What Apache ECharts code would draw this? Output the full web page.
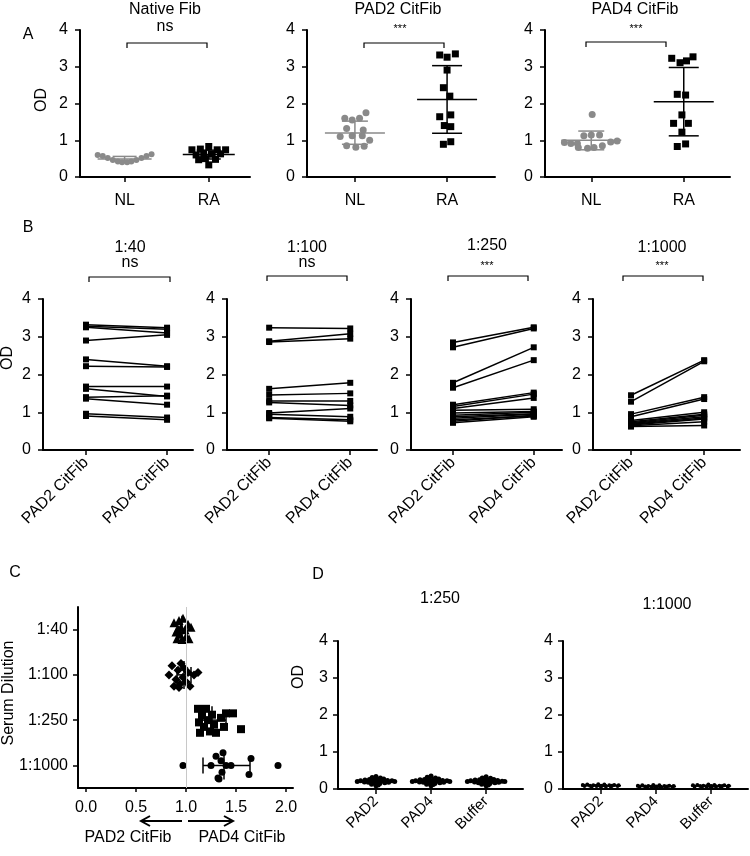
<!DOCTYPE html>
<html>
<head>
<meta charset="utf-8">
<script src="https://cdn.jsdelivr.net/npm/echarts@6/dist/echarts.min.js"></script>
<style>
html, body { margin: 0; padding: 0; background: #fff; }
#chart { width: 750px; height: 856px; }
</style>
</head>
<body>
<div id="chart"></div>
<script>
// ---- panel A: OD by group (value, horizontal jitter in category units)
var groupNames = ['NL', 'RA'];
var nativeNL = [0.60, 0.57, 0.52, 0.46, 0.42, 0.40, 0.40, 0.42, 0.46, 0.52, 0.57, 0.62];
var nativeNLJit = [-0.32, -0.26, -0.2, -0.14, -0.08, -0.03, 0.03, 0.08, 0.14, 0.2, 0.26, 0.32];
var nativeRA = [0.74, 0.76, 0.83, 0.74, 0.74, 0.60, 0.64, 0.62, 0.63, 0.47, 0.50, 0.48, 0.33];
var nativeRAJit = [-0.2, -0.1, 0, 0.1, 0.2, -0.15, -0.06, 0.04, 0.14, -0.12, -0.04, 0.08, 0];
var pad2NL = [1.60, 1.55, 1.60, 1.75, 1.32, 1.28, 1.10, 1.12, 1.12, 1.00, 0.85, 0.81, 0.84];
var pad2NLJit = [-0.11, -0.03, 0.05, 0.12, -0.09, 0.09, -0.16, -0.03, 0.08, 0.16, -0.09, 0.01, 0.10];
var pad2RA = [3.32, 3.26, 3.35, 2.91, 2.43, 2.20, 1.64, 1.69, 1.40, 1.37, 0.89, 0.96];
var pad2RAJit = [-0.08, 0, 0.09, 0, -0.04, 0.03, -0.08, 0.04, -0.03, 0.04, -0.04, 0.04];
var pad4NL = [1.70, 0.94, 0.91, 0.91, 1.12, 1.14, 1.14, 0.80, 0.78, 0.80, 0.85, 0.95, 0.98];
var pad4NLJit = [0.01, -0.29, -0.22, -0.15, -0.08, 0, 0.09, -0.14, -0.04, 0.03, 0.12, 0.21, 0.28];
var pad4RA = [3.23, 3.11, 3.16, 3.27, 2.25, 2.23, 1.69, 1.46, 1.46, 1.22, 0.83, 0.90];
var pad4RAJit = [-0.13, -0.04, 0.03, 0.10, -0.07, 0.02, -0.02, -0.11, 0.05, -0.02, -0.07, 0.02];
// mean, sd low, sd high (NL, RA)
var nativeStats = [[0.49, 0.43, 0.56], [0.61, 0.49, 0.73]];
var pad2Stats = [[1.20, 0.89, 1.52], [2.11, 1.19, 3.03]];
var pad4Stats = [[1.00, 0.74, 1.25], [2.05, 1.12, 2.98]];

// ---- panel B: paired OD, PAD2 CitFib vs PAD4 CitFib
var pairNames = ['PAD2 CitFib', 'PAD4 CitFib'];
var b40Pad2 = [3.32, 3.28, 3.25, 2.90, 2.40, 2.22, 1.68, 1.62, 1.40, 1.36, 0.96, 0.90];
var b40Pad4 = [3.24, 3.20, 3.10, 3.05, 2.22, 2.20, 1.68, 1.42, 1.44, 1.20, 0.86, 0.80];
var b100Pad2 = [3.24, 2.88, 2.86, 1.62, 1.46, 1.30, 1.26, 0.98, 0.95, 0.86, 0.84];
var b100Pad4 = [3.22, 3.08, 2.95, 1.78, 1.50, 1.30, 1.18, 1.10, 0.88, 0.80, 0.76];
var b250Pad2 = [2.85, 2.72, 1.78, 1.65, 1.20, 1.15, 1.10, 1.05, 0.98, 0.92, 0.88, 0.84, 0.80, 0.76, 0.72];
var b250Pad4 = [3.25, 3.22, 2.72, 2.38, 1.52, 1.48, 1.38, 1.08, 1.02, 1.00, 0.96, 0.95, 0.90, 0.92, 0.88];
var b1000Pad2 = [1.45, 1.28, 0.95, 0.88, 0.78, 0.75, 0.72, 0.70, 0.68, 0.66, 0.64, 0.62];
var b1000Pad4 = [2.38, 2.35, 1.40, 1.35, 1.00, 0.95, 0.92, 0.88, 0.85, 0.82, 0.75, 0.65];

// ---- panel C: PAD4/PAD2 ratio per dilution (ratio, vertical jitter)
var dilutions = ['1:40', '1:100', '1:250', '1:1000'];
var c40 = [0.88, 0.90, 0.91, 0.93, 0.94, 0.95, 0.96, 0.97, 0.99, 1.00, 1.02, 1.03, 1.05, 0.92];
var c40Jit = [-0.15, 0.05, 0.2, -0.2, 0.1, -0.05, 0.22, -0.25, 0.0, 0.15, -0.12, 0.2, -0.05, -0.02];
var c100 = [0.83, 0.86, 0.88, 0.90, 0.92, 0.94, 0.95, 0.97, 0.98, 1.00, 1.02, 1.04, 1.08, 1.12, 0.93];
var c100Jit = [0.0, -0.2, 0.25, 0.1, -0.1, 0.2, -0.25, 0.05, -0.15, 0.15, -0.05, 0.25, 0.0, -0.05, 0.28];
var c250 = [1.12, 1.13, 1.14, 1.16, 1.18, 1.20, 1.22, 1.24, 1.26, 1.28, 1.30, 1.35, 1.40, 1.47, 1.55, 1.38];
var c250Jit = [-0.25, 0.05, 0.28, -0.1, 0.15, -0.25, 0.0, 0.25, -0.12, 0.1, 0.28, -0.05, -0.15, -0.15, 0.2, 0.15];
var c1000 = [0.97, 1.25, 1.30, 1.32, 1.35, 1.36, 1.37, 1.40, 1.45, 1.65, 1.63, 1.92, 1.33];
var c1000Jit = [0, 0, -0.2, 0.28, -0.1, 0.15, -0.28, 0, 0, -0.15, 0.2, 0, 0.3];
var cStats = [[0.96, 0.91, 1.01], [0.98, 0.91, 1.05], [1.26, 1.15, 1.40], [1.38, 1.17, 1.64]];

// ---- panel D: OD by coating at two dilutions
var coatNames = ['PAD2', 'PAD4', 'Buffer'];
var d250Pad2 = [0.34, 0.31, 0.30, 0.28, 0.27, 0.26, 0.25, 0.24, 0.23, 0.22, 0.22, 0.21, 0.21, 0.20, 0.20, 0.20, 0.19, 0.18, 0.18, 0.17, 0.16, 0.15, 0.13, 0.11, 0.09];
var d250Pad4 = [0.35, 0.32, 0.30, 0.29, 0.27, 0.26, 0.25, 0.25, 0.23, 0.22, 0.22, 0.21, 0.21, 0.20, 0.20, 0.20, 0.19, 0.18, 0.18, 0.17, 0.16, 0.15, 0.13, 0.12, 0.09];
var d250Buf = [0.33, 0.30, 0.29, 0.27, 0.26, 0.25, 0.24, 0.24, 0.23, 0.22, 0.21, 0.21, 0.20, 0.20, 0.20, 0.19, 0.19, 0.18, 0.17, 0.17, 0.16, 0.15, 0.13, 0.11, 0.09];
var d250Jit = [0.00, -0.07, 0.08, -0.04, 0.14, -0.12, 0.04, -0.2, 0.21, -0.28, 0.29, -0.08, 0.1, -0.34, 0.34, 0.00, -0.21, 0.23, -0.14, 0.16, -0.06, 0.07, -0.08, 0.04, 0.00];
var d1000Pad2 = [0.13, 0.12, 0.12, 0.11, 0.11, 0.10, 0.10, 0.10, 0.09, 0.09, 0.09, 0.08, 0.08, 0.08, 0.07, 0.07, 0.06, 0.06];
var d1000Pad4 = [0.11, 0.10, 0.10, 0.09, 0.09, 0.08, 0.08, 0.08, 0.07, 0.07, 0.07, 0.06, 0.06, 0.06, 0.05, 0.05, 0.05, 0.04];
var d1000Buf = [0.12, 0.11, 0.11, 0.10, 0.10, 0.09, 0.09, 0.09, 0.08, 0.08, 0.08, 0.07, 0.07, 0.07, 0.06, 0.06, 0.05, 0.05];
var d1000Jit = [-0.05, 0.06, -0.25, 0.24, -0.33, 0.32, -0.14, 0.15, 0.0, -0.2, 0.2, -0.3, 0.3, -0.08, 0.09, -0.17, 0.18, 0.0];
var d250Stats = [[0.21, 0.16, 0.26], [0.21, 0.16, 0.26], [0.20, 0.16, 0.25]];
var d1000Stats = [[0.09, 0.07, 0.11], [0.07, 0.05, 0.09], [0.08, 0.06, 0.10]];

var FONT = 'Liberation Sans, Arial, sans-serif';
var GRAY = '#8a8a8a';
var FS = 16;

var grids = [
  { left: 80, top: 30, width: 170, height: 147 },   // A1
  { left: 307, top: 30, width: 188, height: 147 },  // A2
  { left: 545, top: 30, width: 185, height: 147 },  // A3
  { left: 43, top: 299, width: 150, height: 151 },  // B1
  { left: 227, top: 299, width: 150, height: 151 }, // B2
  { left: 411, top: 299, width: 151, height: 151 }, // B3
  { left: 593, top: 299, width: 147, height: 151 }, // B4
  { left: 78, top: 607, width: 215, height: 181 },  // C
  { left: 338, top: 641, width: 185, height: 148 }, // D1
  { left: 563, top: 641, width: 185, height: 148 }  // D2
];

function axLine() { return { show: true, onZero: false, lineStyle: { color: '#000', width: 2 } }; }

function odAxis(gi, margin) {
  return {
    type: 'value', gridIndex: gi, min: 0, max: 4, interval: 1,
    axisLine: axLine(),
    axisTick: { show: true, length: 5, lineStyle: { color: '#000', width: 1.5 } },
    axisLabel: { color: '#000', fontSize: FS, fontFamily: FONT, margin: margin },
    splitLine: { show: false }
  };
}

function groupAxis(gi, min, max, names, rotate, fontSize, margin) {
  var idx = names.map(function (n, i) { return i; });
  return {
    type: 'value', gridIndex: gi, min: min, max: max,
    axisLine: axLine(),
    axisTick: { show: true, length: 5, customValues: idx, lineStyle: { color: '#000', width: 1.5 } },
    axisLabel: {
      customValues: idx, rotate: rotate, margin: margin,
      color: '#000', fontSize: fontSize, fontFamily: FONT,
      formatter: function (v) { return names[Math.round(v)]; }
    },
    splitLine: { show: false }
  };
}

var xAxes = [
  groupAxis(0, -0.53, 1.49, groupNames, 0, FS, 16),
  groupAxis(1, -0.52, 1.52, groupNames, 0, FS, 16),
  groupAxis(2, -0.50, 1.50, groupNames, 0, FS, 16),
  groupAxis(3, -0.53, 1.32, pairNames, 45, FS, 10),
  groupAxis(4, -0.52, 1.33, pairNames, 45, FS, 10),
  groupAxis(5, -0.52, 1.35, pairNames, 45, FS, 10),
  groupAxis(6, -0.52, 1.49, pairNames, 45, FS, 10),
  {
    type: 'value', gridIndex: 7, min: -0.08, max: 2.07,
    axisLine: axLine(),
    axisTick: { show: true, length: 4, customValues: [0, 0.5, 1, 1.5, 2], lineStyle: { color: '#000', width: 1.5 } },
    axisLabel: {
      customValues: [0, 0.5, 1, 1.5, 2], margin: 12, color: '#000', fontSize: FS, fontFamily: FONT,
      formatter: function (v) { return v.toFixed(1); }
    },
    splitLine: { show: false }
  },
  groupAxis(8, -0.69, 2.67, coatNames, 45, 15, 10),
  groupAxis(9, -0.69, 2.67, coatNames, 45, 15, 10)
];

var yAxes = [
  odAxis(0, 12), odAxis(1, 12), odAxis(2, 12),
  odAxis(3, 12), odAxis(4, 12), odAxis(5, 12), odAxis(6, 12),
  {
    type: 'value', gridIndex: 7, min: -0.5, max: 3.5, inverse: true,
    axisLine: axLine(),
    axisTick: { show: true, length: 5, customValues: [0, 1, 2, 3], lineStyle: { color: '#000', width: 1.5 } },
    axisLabel: {
      customValues: [0, 1, 2, 3], margin: 10, color: '#000', fontSize: FS, fontFamily: FONT,
      formatter: function (v) { return dilutions[Math.round(v)]; }
    },
    splitLine: { show: false }
  },
  odAxis(8, 10), odAxis(9, 10)
];

function jittered(vals, jit, pos) {
  return vals.map(function (v, i) { return [pos + jit[i], v]; });
}

function scatter(gi, data, symbol, size, color) {
  return {
    type: 'scatter', xAxisIndex: gi, yAxisIndex: gi, data: data,
    symbol: symbol, symbolSize: size, itemStyle: { color: color, opacity: 1 },
    z: 2, silent: true
  };
}

// vertical mean +/- SD bar drawn through the axes
function vBarRender(color, meanHalf, capHalf) {
  return function (params, api) {
    var x = api.value(0);
    var pm = api.coord([x, api.value(1)]);
    var pl = api.coord([x, api.value(2)]);
    var ph = api.coord([x, api.value(3)]);
    var st = { stroke: color, lineWidth: 1.5 };
    return {
      type: 'group', children: [
        { type: 'line', shape: { x1: pm[0] - meanHalf, y1: pm[1], x2: pm[0] + meanHalf, y2: pm[1] }, style: st },
        { type: 'line', shape: { x1: pl[0], y1: pl[1], x2: ph[0], y2: ph[1] }, style: st },
        { type: 'line', shape: { x1: pl[0] - capHalf, y1: pl[1], x2: pl[0] + capHalf, y2: pl[1] }, style: st },
        { type: 'line', shape: { x1: ph[0] - capHalf, y1: ph[1], x2: ph[0] + capHalf, y2: ph[1] }, style: st }
      ]
    };
  };
}

function vBars(gi, stats, first, color, meanHalf, capHalf) {
  return {
    type: 'custom', xAxisIndex: gi, yAxisIndex: gi, z: 3, silent: true,
    data: stats.map(function (s, i) { return [first + i, s[0], s[1], s[2]]; }),
    encode: { x: 0, y: 1 },
    renderItem: vBarRender(color, meanHalf, capHalf)
  };
}

// horizontal mean +/- SD bars for panel C
function hBars(gi, stats, meanHalf, capHalf) {
  return {
    type: 'custom', xAxisIndex: gi, yAxisIndex: gi, z: 3, silent: true,
    data: stats.map(function (s, i) { return [s[0], i, s[1], s[2]]; }),
    encode: { x: 0, y: 1 },
    renderItem: function (params, api) {
      var y = api.value(1);
      var pm = api.coord([api.value(0), y]);
      var pl = api.coord([api.value(2), y]);
      var ph = api.coord([api.value(3), y]);
      var st = { stroke: '#000', lineWidth: 1.5 };
      return {
        type: 'group', children: [
          { type: 'line', shape: { x1: pm[0], y1: pm[1] - meanHalf, x2: pm[0], y2: pm[1] + meanHalf }, style: st },
          { type: 'line', shape: { x1: pl[0], y1: pl[1], x2: ph[0], y2: ph[1] }, style: st },
          { type: 'line', shape: { x1: pl[0], y1: pl[1] - capHalf, x2: pl[0], y2: pl[1] + capHalf }, style: st },
          { type: 'line', shape: { x1: ph[0], y1: ph[1] - capHalf, x2: ph[0], y2: ph[1] + capHalf }, style: st }
        ]
      };
    }
  };
}

function pairs(gi, left, right) {
  return left.map(function (l, i) {
    return {
      type: 'line', xAxisIndex: gi, yAxisIndex: gi, silent: true,
      data: [[0, l], [1, right[i]]],
      symbol: 'rect', symbolSize: 6, showSymbol: true,
      lineStyle: { color: '#000', width: 1.5 }, itemStyle: { color: '#000' }
    };
  });
}

var series = [
  scatter(0, jittered(nativeNL, nativeNLJit, 0), 'circle', 6, GRAY),
  scatter(0, jittered(nativeRA, nativeRAJit, 1), 'rect', 7, '#000'),
  vBars(0, [nativeStats[0]], 0, GRAY, 27, 12),
  vBars(0, [nativeStats[1]], 1, '#000', 26, 12),
  scatter(1, jittered(pad2NL, pad2NLJit, 0), 'circle', 7, GRAY),
  scatter(1, jittered(pad2RA, pad2RAJit, 1), 'rect', 7, '#000'),
  vBars(1, [pad2Stats[0]], 0, GRAY, 30, 13),
  vBars(1, [pad2Stats[1]], 1, '#000', 30, 15),
  scatter(2, jittered(pad4NL, pad4NLJit, 0), 'circle', 7, GRAY),
  scatter(2, jittered(pad4RA, pad4RAJit, 1), 'rect', 7, '#000'),
  vBars(2, [pad4Stats[0]], 0, GRAY, 30, 13),
  vBars(2, [pad4Stats[1]], 1, '#000', 30, 15),
  scatter(7, c40.map(function (v, i) { return [v, 0 + c40Jit[i]]; }), 'triangle', 9, '#000'),
  scatter(7, c100.map(function (v, i) { return [v, 1 + c100Jit[i]]; }), 'diamond', 9, '#000'),
  scatter(7, c250.map(function (v, i) { return [v, 2 + c250Jit[i]]; }), 'rect', 8, '#000'),
  scatter(7, c1000.map(function (v, i) { return [v, 3 + c1000Jit[i]]; }), 'circle', 7, '#000'),
  hBars(7, cStats, 14, 8),
  scatter(8, jittered(d250Pad2, d250Jit, 0), 'circle', 5, '#000'),
  scatter(8, jittered(d250Pad4, d250Jit, 1), 'circle', 5, '#000'),
  scatter(8, jittered(d250Buf, d250Jit, 2), 'circle', 5, '#000'),
  vBars(8, d250Stats, 0, '#000', 20, 6),
  scatter(9, jittered(d1000Pad2, d1000Jit, 0), 'circle', 4, '#000'),
  scatter(9, jittered(d1000Pad4, d1000Jit, 1), 'circle', 4, '#000'),
  scatter(9, jittered(d1000Buf, d1000Jit, 2), 'circle', 4, '#000'),
  vBars(9, d1000Stats, 0, '#000', 20, 6)
];
series = series.concat(pairs(3, b40Pad2, b40Pad4), pairs(4, b100Pad2, b100Pad4),
  pairs(5, b250Pad2, b250Pad4), pairs(6, b1000Pad2, b1000Pad4));
// reference line at ratio 1 in panel C
series.push({
  type: 'line', xAxisIndex: 7, yAxisIndex: 7, data: [], silent: true,
  markLine: {
    silent: true, symbol: 'none', label: { show: false },
    lineStyle: { color: '#c8c8c8', width: 1, type: 'solid' },
    data: [{ xAxis: 1 }]
  }
});

function txt(x, y, s, size, rot) {
  var o = {
    type: 'text', x: x, y: y, silent: true,
    style: { text: s, fill: '#000', fontSize: size, fontFamily: FONT, align: 'center', verticalAlign: 'middle' }
  };
  if (rot) { o.rotation = rot; }
  return o;
}
function bracket(x1, x2, y) {
  return {
    type: 'polyline', silent: true,
    shape: { points: [[x1, y + 5], [x1, y], [x2, y], [x2, y + 5]] },
    style: { stroke: '#000', lineWidth: 1.2, fill: null }
  };
}
var V = Math.PI / 2;
var graphics = [
  txt(28, 35, 'A', FS), txt(42, 100, 'OD', FS, V),
  txt(165, 10, 'Native Fib', FS), txt(165, 27, 'ns', FS), bracket(127, 207, 43),
  txt(398, 10, 'PAD2 CitFib', FS), txt(400, 29, '***', 11), bracket(364, 444, 43),
  txt(635, 10, 'PAD4 CitFib', FS), txt(636, 29, '***', 11), bracket(586, 666, 42),
  txt(28, 228, 'B', FS), txt(8, 358, 'OD', FS, V),
  txt(130, 248, '1:40', FS), txt(130, 263, 'ns', FS), bracket(89, 170, 277),
  txt(307, 248, '1:100', FS), txt(307, 263, 'ns', FS), bracket(267, 347, 276),
  txt(487, 246, '1:250', FS), txt(487, 266, '***', 11), bracket(448, 528, 276),
  txt(662, 248, '1:1000', FS), txt(662, 266, '***', 11), bracket(623, 703, 276),
  txt(15, 573, 'C', FS), txt(9, 693, 'Serum Dilution', FS, V),
  txt(128, 838, 'PAD2 CitFib', FS), txt(242, 838, 'PAD4 CitFib', FS),
  { type: 'line', silent: true, shape: { x1: 142, y1: 821, x2: 182, y2: 821 }, style: { stroke: '#000', lineWidth: 2 } },
  { type: 'polyline', silent: true, shape: { points: [[150, 816], [141, 821], [150, 826]] }, style: { stroke: '#000', lineWidth: 2, fill: null } },
  { type: 'line', silent: true, shape: { x1: 188, y1: 821, x2: 232, y2: 821 }, style: { stroke: '#000', lineWidth: 2 } },
  { type: 'polyline', silent: true, shape: { points: [[224, 816], [233, 821], [224, 826]] }, style: { stroke: '#000', lineWidth: 2, fill: null } },
  txt(318, 575, 'D', FS), txt(299, 677, 'OD', FS, V),
  txt(440, 599, '1:250', FS), txt(667, 605, '1:1000', FS)
];

var chart = echarts.init(document.getElementById('chart'), null, { renderer: 'canvas' });
chart.setOption({
  animation: false,
  backgroundColor: '#fff',
  grid: grids,
  xAxis: xAxes,
  yAxis: yAxes,
  series: series,
  graphic: graphics
});
</script>
</body>
</html>
